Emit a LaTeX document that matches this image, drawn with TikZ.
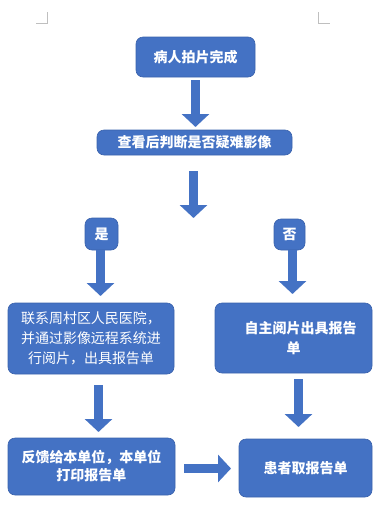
\documentclass[tikz,border=0pt]{standalone}
\usepackage{fontspec}
\newfontfamily\cjk{Noto Sans CJK SC}
\usetikzlibrary{arrows.meta}
\definecolor{boxblue}{HTML}{4472C4}
\definecolor{boxedge}{HTML}{3A62AC}
\definecolor{markgray}{HTML}{BFBFBF}
\tikzset{
  box/.style={rectangle, rounded corners=7pt, fill=boxblue, draw=boxedge, line width=0.6pt,
    text=white, inner sep=0pt, align=center, font=\cjk\bfseries\fontsize{14}{20}\selectfont},
  blockarrow/.style={draw=boxblue, line width=9pt, -{Triangle[width=27pt,length=13pt]}},
  cornermark/.style={draw=markgray, line width=0.8pt}
}
\begin{document}
\begin{tikzpicture}[x=1pt,y=-1pt]
\useasboundingbox (0,0) rectangle (377,512);
% corner marks
\draw[cornermark] (36,23) -- (47,23) -- (47,12);
\draw[cornermark] (318,12) -- (318,23) -- (330,23);
% boxes
\node[box, minimum width=119pt, minimum height=40pt] (n1) at (195.5,57) {病人拍片完成};
\node[box, minimum width=195pt, minimum height=25pt] (n2) at (194.5,142.5) {查看后判断是否疑难影像};
\node[box, minimum width=33pt, minimum height=32pt] (yes) at (101.5,234) {是};
\node[box, minimum width=31pt, minimum height=31pt] (no) at (289.5,234.5) {否};
\node[box, minimum width=166pt, minimum height=71pt, font=\cjk\fontsize{14}{20}\selectfont] (n3l) at (91,338.5) {联系周村区人民医院，\\并通过影像远程系统进\\行阅片，出具报告单};
\node[box, minimum width=157pt, minimum height=70pt] (n3r) at (293.5,338) {\hspace*{14pt}自主阅片出具报告\\单};
\node[box, minimum width=167pt, minimum height=57pt, font=\cjk\bfseries\fontsize{14}{18}\selectfont] (n4l) at (91.5,466.5) {反馈给本单位，本单位\\打印报告单};
\node[box, minimum width=133pt, minimum height=58pt] (n4r) at (305.5,468) {患者取报告单};
% arrow end points
\coordinate (a1s) at (195.5,80);  \coordinate (a1e) at (195.5,127);
\coordinate (a2s) at (193.5,171); \coordinate (a2e) at (193.5,218);
\coordinate (a3s) at (100.5,250); \coordinate (a3e) at (100.5,296);
\coordinate (a4s) at (292.5,250); \coordinate (a4e) at (292.5,294);
\coordinate (a5s) at (98.5,385);  \coordinate (a5e) at (98.5,432);
\coordinate (a6s) at (298.5,379); \coordinate (a6e) at (298.5,427);
\coordinate (a7s) at (184,468.5); \coordinate (a7e) at (231,468.5);
\draw[blockarrow] (a1s) -- (a1e);
\draw[blockarrow] (a2s) -- (a2e);
\draw[blockarrow] (a3s) -- (a3e);
\draw[blockarrow] (a4s) -- (a4e);
\draw[blockarrow] (a5s) -- (a5e);
\draw[blockarrow] (a6s) -- (a6e);
\draw[blockarrow] (a7s) -- (a7e);
\end{tikzpicture}
\end{document}
